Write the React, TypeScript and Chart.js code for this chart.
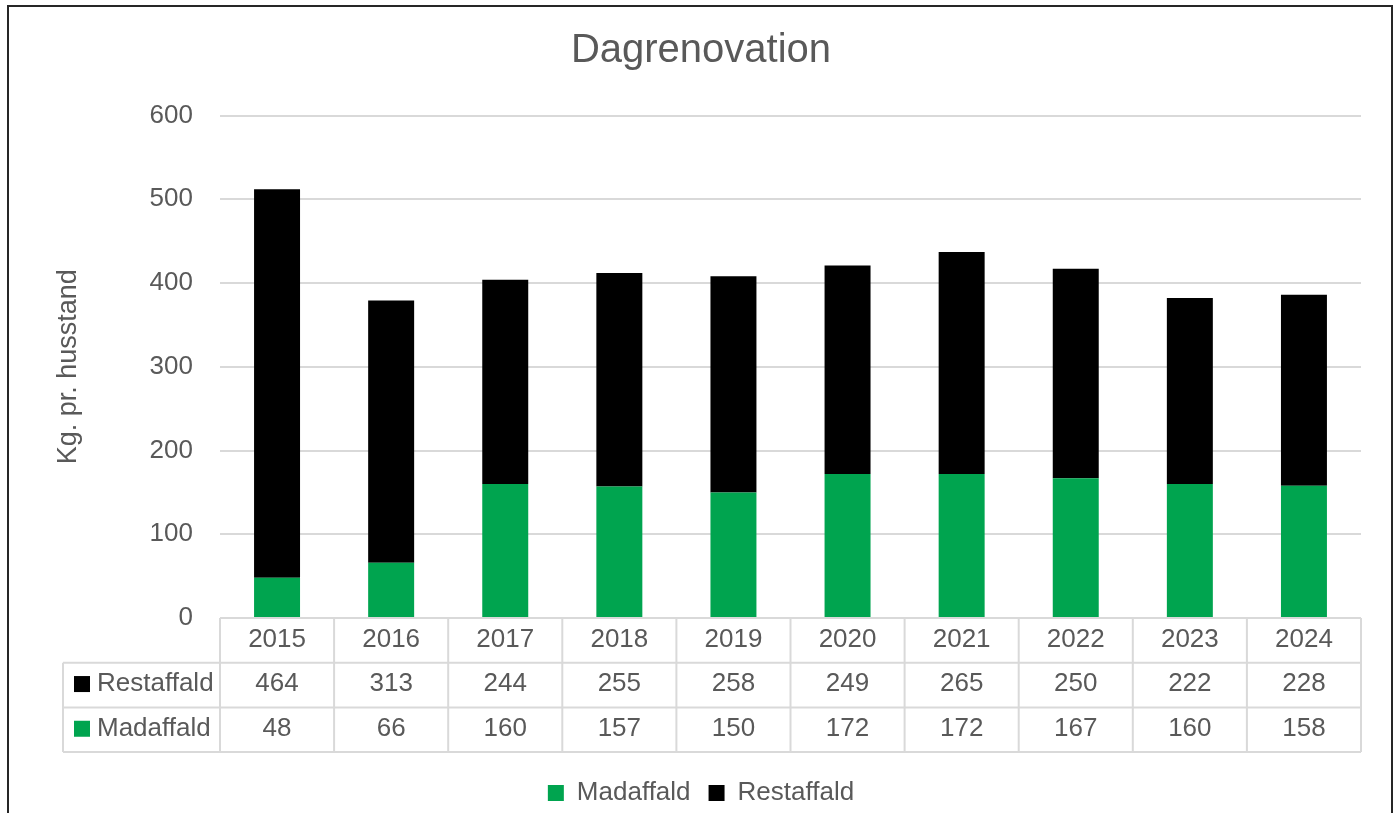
import React, { useEffect, useRef } from 'react';
import { Chart, registerables } from 'chart.js';

Chart.register(...registerables);

const FONT = '"Liberation Sans", Arial, sans-serif';
const TEXT = '#595959';
const LINE = '#d9d9d9';
const GREEN = '#00A44F';
const BLACK = '#000000';

const chartTitle = 'Dagrenovation';
const yAxisTitle = 'Kg. pr. husstand';
const years = ['2015', '2016', '2017', '2018', '2019', '2020', '2021', '2022', '2023', '2024'];
const madaffald = [48, 66, 160, 157, 150, 172, 172, 167, 160, 158];
const restaffald = [464, 313, 244, 255, 258, 249, 265, 250, 222, 228];
const yTicks = [0, 100, 200, 300, 400, 500, 600];

const tablePlugin = {
  id: 'dataTable',
  afterDraw(chart: any) {
    const { ctx, chartArea } = chart;
    const xScale = chart.scales.x;
    const labels = chart.data.labels as string[];
    const n = labels.length;
    const colW = (chartArea.right - chartArea.left) / n;
    const top = chartArea.bottom;
    const rowH = 44.7;
    const labelLeft = 63;
    const y1 = top + rowH;
    const y2 = top + rowH * 2;
    const y3 = top + rowH * 3;

    ctx.save();
    ctx.strokeStyle = LINE;
    ctx.lineWidth = 2;
    ctx.beginPath();
    ctx.moveTo(chartArea.left, top);
    ctx.lineTo(chartArea.right, top);
    [y1, y2, y3].forEach((y) => {
      ctx.moveTo(labelLeft, y);
      ctx.lineTo(chartArea.right, y);
    });
    ctx.moveTo(labelLeft, y1);
    ctx.lineTo(labelLeft, y3);
    for (let i = 0; i <= n; i++) {
      const xb = chartArea.left + i * colW;
      ctx.moveTo(xb, top);
      ctx.lineTo(xb, y3);
    }
    ctx.stroke();

    ctx.fillStyle = TEXT;
    ctx.font = `26px ${FONT}`;
    ctx.textAlign = 'center';
    ctx.textBaseline = 'middle';
    labels.forEach((lab, i) => {
      const cx = xScale.getPixelForValue(i);
      ctx.fillText(lab, cx, top + rowH / 2 - 1);
    });

    const rows = [1, 0];
    rows.forEach((dsIndex, r) => {
      const ds = chart.data.datasets[dsIndex];
      const cy = top + rowH * (r + 1) + rowH / 2 - 1;
      ctx.fillStyle = ds.backgroundColor as string;
      ctx.fillRect(74, cy - 8, 16, 16);
      ctx.fillStyle = TEXT;
      ctx.textAlign = 'left';
      ctx.fillText(ds.label, 97, cy);
      ctx.textAlign = 'center';
      (ds.data as number[]).forEach((v, i) => {
        ctx.fillText(String(v), xScale.getPixelForValue(i), cy);
      });
    });
    ctx.restore();
  },
};

function App() {
  const ref = useRef<HTMLCanvasElement | null>(null);

  useEffect(() => {
    if (!ref.current) return;
    Chart.defaults.font.family = FONT;
    const chart = new Chart(ref.current, {
      type: 'bar',
      data: {
        labels: years,
        datasets: [
          {
            label: 'Madaffald',
            data: madaffald,
            backgroundColor: GREEN,
            borderWidth: 0,
            barPercentage: 0.403,
            categoryPercentage: 1,
          },
          {
            label: 'Restaffald',
            data: restaffald,
            backgroundColor: BLACK,
            borderWidth: 0,
            barPercentage: 0.403,
            categoryPercentage: 1,
          },
        ],
      },
      options: {
        responsive: false,
        animation: false,
        layout: { padding: { left: 41, right: 39, top: 0, bottom: 0 } },
        plugins: {
          title: {
            display: true,
            text: chartTitle,
            color: TEXT,
            font: { size: 40, weight: 'normal', family: FONT },
            padding: { top: 27, bottom: 40.5 },
          },
          legend: {
            position: 'bottom',
            labels: {
              boxWidth: 16,
              boxHeight: 16,
              padding: 18,
              color: TEXT,
              font: { size: 26, family: FONT },
            },
          },
          tooltip: { enabled: false },
        },
        scales: {
          x: {
            stacked: true,
            grid: { display: false },
            border: { display: false },
            ticks: { display: false },
            afterFit: (scale: any) => {
              scale.height = 144;
            },
          },
          y: {
            stacked: true,
            min: 0,
            max: 600,
            afterBuildTicks: (scale: any) => {
              scale.ticks = yTicks.map((v) => ({ value: v }));
            },
            grid: { color: LINE, lineWidth: 2, drawTicks: false },
            border: { display: false },
            ticks: {
              color: TEXT,
              padding: 27,
              font: { size: 26, family: FONT },
            },
            title: {
              display: true,
              text: yAxisTitle,
              color: TEXT,
              font: { size: 27, family: FONT },
              padding: { top: 11, bottom: 0 },
            },
            afterFit: (scale: any) => {
              scale.width = 179;
            },
          },
        },
      },
      plugins: [tablePlugin],
    });
    return () => chart.destroy();
  }, []);

  return (
    <div style={{ position: 'fixed', left: 0, top: 0, width: 1400, height: 813, overflow: 'hidden', background: '#fff' }}>
      <canvas ref={ref} width={1400} height={816} style={{ position: 'absolute', left: 0, top: 0, width: 1400, height: 816 }} />
      <div
        style={{
          position: 'absolute',
          left: 7,
          top: 5,
          width: 1386,
          height: 840,
          borderTop: '2px solid #262626',
          borderLeft: '2px solid #262626',
          borderRight: '2px solid #262626',
          boxSizing: 'border-box',
          pointerEvents: 'none',
        }}
      />
    </div>
  );
}

export default App;
